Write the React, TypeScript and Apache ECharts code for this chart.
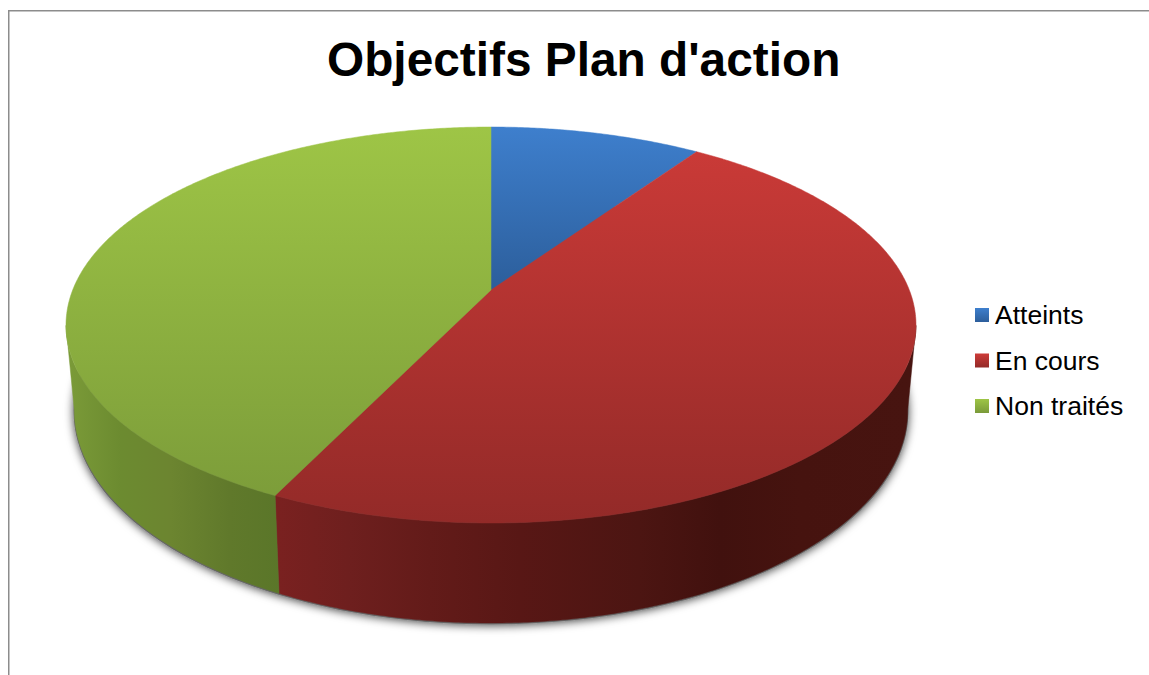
import React, { useEffect, useRef } from "react";
import * as echarts from "echarts";

const titleText = "Objectifs Plan d'action";
const categories = ["Atteints", "En cours", "Non traités"];
const values = [2, 10, 9];

const FONT = '"Liberation Sans", Arial, sans-serif';
const TOP = { cx: 491, apex: 290, a: 418.3, b: 191.8, k: -0.1768 };
const LOW = { cx: 491, apex: 372, a: 410, b: 206.2, k: -0.1784 };
const FRONT_START = 100.3;
const FRONT_END = 259.7;

const grad = (x1: number, y1: number, x2: number, y2: number, stops: [number, string][]) =>
  new echarts.graphic.LinearGradient(
    x1, y1, x2, y2,
    stops.map(([offset, color]) => ({ offset, color })),
    true
  );

const topFills = [
  grad(0, 127, 0, 290, [[0, "#3e7fcd"], [1, "#2c5e9b"]]),
  grad(0, 127, 0, 523, [[0, "#cd3b38"], [1, "#932a28"]]),
  grad(0, 127, 0, 523, [[0, "#9ec546"], [1, "#7a9a39"]]),
];

const sx = (x: number) => (x - 66) / 850;
const sideFills = [
  "#2a5480",
  grad(66, 0, 916, 0, [
    [sx(276), "#7a2120"], [sx(350), "#6e1f1e"], [sx(430), "#631b19"], [sx(520), "#581715"],
    [sx(640), "#4c1512"], [sx(720), "#41110e"], [sx(800), "#46130f"], [sx(910), "#471410"],
  ]),
  grad(66, 0, 916, 0, [
    [sx(70), "#7a9a38"], [sx(120), "#6c8b30"], [sx(170), "#6c8530"], [sx(230), "#60792b"], [sx(282), "#5a7629"],
  ]),
];

const legendFills = [
  new echarts.graphic.LinearGradient(0, 0, 0, 1, [{ offset: 0, color: "#3e7fcd" }, { offset: 1, color: "#2c5e9b" }]),
  new echarts.graphic.LinearGradient(0, 0, 0, 1, [{ offset: 0, color: "#cd3b38" }, { offset: 1, color: "#932a28" }]),
  new echarts.graphic.LinearGradient(0, 0, 0, 1, [{ offset: 0, color: "#9ec546" }, { offset: 1, color: "#7a9a39" }]),
];

const project = (deg: number, p: typeof TOP): [number, number] => {
  const t = (deg * Math.PI) / 180;
  const u = Math.sin(t);
  const v = -Math.cos(t);
  const d = 1 + p.k * v;
  return [p.cx + (p.a * u) / d, p.apex + (p.b * v) / d];
};

const arc = (from: number, to: number, p: typeof TOP) => {
  const pts: [number, number][] = [];
  const n = Math.max(2, Math.ceil((to - from) * 2));
  for (let i = 0; i <= n; i++) pts.push(project(from + ((to - from) * i) / n, p));
  return pts;
};

const total = values.reduce((s, v) => s + v, 0);

const makeRender = (index: number) => (_params: any, api: any) => {
  const before = values.slice(0, index).reduce((s, v) => s + v, 0);
  const start = (before / total) * 360;
  const end = start + (api.value(0) / total) * 360;
  const children: any[] = [];
  const from = Math.max(start, FRONT_START);
  const to = Math.min(end, FRONT_END);
  if (to > from) {
    children.push({
      type: "polygon",
      shape: { points: [...arc(from, to, TOP), ...arc(from, to, LOW).reverse()] },
      style: { fill: sideFills[index], stroke: sideFills[index], lineWidth: 0.5 },
    });
  }
  children.push({
    type: "polygon",
    shape: { points: [[TOP.cx, TOP.apex], ...arc(start, end, TOP)] },
    style: { fill: topFills[index], stroke: topFills[index], lineWidth: 0.5 },
  });
  return { type: "group", children };
};

export default function App() {
  const ref = useRef<HTMLDivElement>(null);
  useEffect(() => {
    document.body.style.margin = "0";
    document.body.style.overflow = "hidden";
    const chart = echarts.init(ref.current!, undefined, { renderer: "svg" });
    chart.setOption({
      animation: false,
      backgroundColor: "#ffffff",
      title: {
        text: titleText,
        left: 327,
        top: 35,
        padding: 0,
        textStyle: { fontFamily: FONT, fontSize: 47.8, fontWeight: "bold", color: "#000000" },
      },
      legend: {
        orient: "vertical",
        left: 975,
        top: 300,
        padding: 0,
        itemWidth: 14,
        itemHeight: 14,
        itemGap: 15.5,
        icon: "rect",
        selectedMode: false,
        textStyle: { fontFamily: FONT, fontSize: 26.5, color: "#000000", lineHeight: 30, padding: [0, 0, 0, 1] },
        data: categories.map((name, i) => ({ name, itemStyle: { color: legendFills[i] } })),
      },
      graphic: [
        {
          type: "line",
          z: 0,
          shape: { x1: 8.75, y1: 675, x2: 8.75, y2: 10.75 },
          style: { stroke: "#8c8c8c", lineWidth: 1.5 },
        },
        {
          type: "line",
          z: 0,
          shape: { x1: 8, y1: 10.75, x2: 1149, y2: 10.75 },
          style: { stroke: "#8c8c8c", lineWidth: 1.5 },
        },
        {
          type: "ellipse",
          z: 0,
          shape: { cx: 491, cy: 411, rx: 417.5, ry: 213.5 },
          style: {
            fill: "#666666",
            shadowColor: "rgba(0,0,0,0.75)",
            shadowBlur: 10,
            shadowOffsetX: 0,
            shadowOffsetY: 1,
          },
        },
      ],
      series: categories.map((name, i) => ({
        type: "custom",
        name,
        coordinateSystem: "none",
        silent: true,
        itemStyle: { color: legendFills[i] },
        data: [[values[i]]],
        renderItem: makeRender(i),
        z: 2,
      })),
    });
    return () => chart.dispose();
  }, []);
  return <div ref={ref} style={{ position: "absolute", left: 0, top: 0, width: 1149, height: 675 }} />;
}
